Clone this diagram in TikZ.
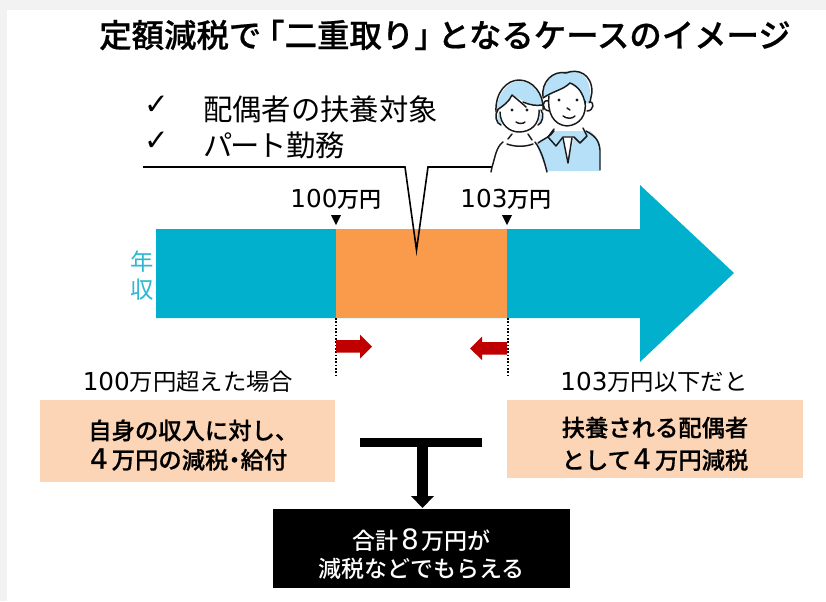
\documentclass[tikz,border=0pt]{standalone}
\usepackage{fontspec}
\setmainfont{Noto Sans CJK JP}
\newfontfamily\jpm{Noto Sans CJK JP Medium}
\newfontfamily\jph{Noto Sans CJK JP Medium}[FakeBold=0.6]
\newfontfamily\dvs{DejaVu Sans}
\newfontfamily\dvh{DejaVu Sans}[FakeBold=0.8]
\usetikzlibrary{shapes.geometric}
\definecolor{teal1}{HTML}{00B0CC}
\definecolor{teal2}{HTML}{2CB8D2}
\definecolor{orange1}{HTML}{F99B4A}
\definecolor{peach}{HTML}{FBD5B5}
\definecolor{red1}{HTML}{C00000}
\definecolor{sky}{HTML}{B5E0F8}
\definecolor{ink}{HTML}{1A1A1A}
\definecolor{frameg}{HTML}{F2F2F2}
\newcommand{\dgA}[1]{{\dvs\fontsize{18.5pt}{20pt}\selectfont #1}}
\newcommand{\dgB}[1]{{\dvh\fontsize{21pt}{22pt}\selectfont\hspace{0.08em}#1\hspace{0.14em}}}
\newcommand{\dgC}[1]{{\dvs\fontsize{21pt}{22pt}\selectfont\hspace{0.08em}#1\hspace{0.08em}}}
\tikzset{
 x=0.75pt,y=-0.75pt,
 lab/.style={font=\fontsize{22pt}{26pt}\selectfont,text=black,inner sep=0},
 amount/.style={font=\jpm\fontsize{16.5pt}{18pt}\selectfont,text=black,inner sep=0},
 side/.style={font=\fontsize{17.5pt}{20pt}\selectfont,text=black,inner sep=0},
 peachbox/.style={fill=peach,draw=none,inner sep=0,align=center,font=\jph\fontsize{17.5pt}{24.3pt}\selectfont},
 band/.style={fill=teal1,draw=none},
 pen/.style={draw=ink,line width=1.1pt,line cap=round,line join=round},
 tri/.style={fill=black,draw=none},
 dots/.style={draw=black,line width=1.5pt,dash pattern=on 1.2pt off 1.3pt},
 redarrow/.style={fill=red1,draw=none},
 check/.style={font=\dvs\fontsize{22pt}{24pt}\selectfont,inner sep=0},
}
\begin{document}
\begin{tikzpicture}
\useasboundingbox (0,0) rectangle (826,601);
\fill[frameg] (0,0) rectangle (826,601);
\fill[white] (7,10) rectangle (826,601);
% title
\node[font=\jph\fontsize{24.3pt}{28pt}\selectfont,inner sep=0] (title) at (445,35) {定額減税で\hspace{-0.28em}「二重取り」\hspace{-0.28em}となるケースのイメージ};
% arrow band
\fill[band] (156,229) -- (640,229) -- (640,185) -- (734,273) -- (640,362) -- (640,318) -- (156,318) -- cycle;
\node[fill=orange1,minimum width=128.25pt,minimum height=66.75pt,inner sep=0,draw=none] (mid) at (421.5,273.5) {};
% labels
\node[font=\fontsize{17.5pt}{21pt}\selectfont,text=teal2,align=center,inner sep=0] (nenshu) at (142,276) {年\\収};
\node[lab,anchor=west] (c1) at (203,109) {配偶者の扶養対象};
\node[lab,anchor=west] (c2) at (203,145) {パ\kern-0.08em ー\kern-0.08em ト勤務};
\node[check] (k1) at (157,105) {✓};
\node[check] (k2) at (157,141) {✓};
% callout line
\coordinate (lineL) at (143,167);
\coordinate (lineR) at (492,167);
\coordinate (tip) at (416.5,250);
\draw[draw=black,line width=1.2pt,line join=miter] (lineL) -- (405,167) -- (tip) -- (428,167) -- (lineR);
% amounts
\node[amount] (a100) at (336,199) {\dgA{100}万円};
\node[amount] (a103) at (506,199) {\dgA{103}万円};
\fill[tri] (331,215) -- (341,215) -- (336,225) -- cycle;
\fill[tri] (502,215) -- (512,215) -- (507,225) -- cycle;
% dotted
\coordinate (d1) at (335.5,318);
\coordinate (d2) at (507.5,318);
\draw[dots] (d1) -- (335.5,377);
\draw[dots] (d2) -- (507.5,377);
% red arrows
\fill[redarrow] (336,340) -- (360,340) -- (360,334.5) -- (372,346.5) -- (360,358.5) -- (360,352.5) -- (336,352.5) -- cycle;
\fill[redarrow] (507,342) -- (482,342) -- (482,336.5) -- (470,348.5) -- (482,360) -- (482,354.5) -- (507,354.5) -- cycle;
% side labels
\node[side] (l1) at (188,382) {\dgA{100}万円超えた場合};
\node[side] (l2) at (654,382) {\dgA{103}万円以下だと};
\node[peachbox,minimum width=221.25pt,minimum height=61.5pt] (b1) at (187.5,441) {\hspace*{0.5em}\rule{0pt}{21pt}自身の収入に対し、\\[-2.25pt]\dgB{4}万円の減税\hspace{-0.24em}・\hspace{-0.24em}給付};
\node[peachbox,minimum width=222pt,minimum height=58.5pt] (b2) at (655,439) {\rule{0pt}{22pt}扶養される配偶者\\として\dgB{4}万円減税};
% T connector
\node[fill=black,minimum width=91.5pt,minimum height=6.75pt,inner sep=0,draw=none] (bar) at (421,442.5) {};
\node[fill=black,align=center,text=white,minimum width=222.75pt,minimum height=59.25pt,inner sep=0,font=\jpm\fontsize{17.25pt}{22.5pt}\selectfont] (sum) at (421.5,548.5) {\rule{0pt}{24.5pt}合計\dgC{8}万円が\\[-1.5pt]減税などでもらえる};
\coordinate (stemEnd) at (422.5,497);
\draw[black,line width=8.25pt] (422.5,447) -- (stemEnd);
\fill[black] (411,496) -- (434,496) -- (422.5,508) -- cycle;
% people: man
\begin{scope}
 \fill[sky] (538,143) .. controls (545,138) and (552,136) .. (556,131) -- (590,131) .. controls (596,136) and (600,140) .. (600,150) -- (600,171) -- (540,171) -- cycle;
 \fill[white] (562,137) -- (574,137) -- (568,163) -- cycle;
 \draw[pen] (538,143) .. controls (545,138) and (550,137) .. (554,131);
 \draw[pen] (586,131) .. controls (595,136) and (599,140) .. (600,150) -- (600,170);
 \draw[pen] (554,129) -- (548,137) -- (556,146) -- (563,137) -- (574,137) -- (580,143) -- (587,136) -- (583,128);
 \draw[pen] (563,138) -- (568,163) -- (572,138);
 \fill[white] (549,92) .. controls (546,110) and (549,126) .. (568,127) .. controls (582,126) and (588,112) .. (586,96) -- cycle;
 \fill[sky] (543,97) .. controls (543,80) and (555,70) .. (570,71) .. controls (585,70) and (592,82) .. (590,104) -- (585,103) .. controls (584,93) and (577,88) .. (570,83) .. controls (563,90) and (553,91) .. (543,98) -- cycle;
 \draw[pen] (549,96) .. controls (547,112) and (553,125) .. (567,126) .. controls (580,125) and (587,115) .. (585,101);
 \draw[pen] (543,97) .. controls (541,82) and (553,70) .. (566,73) .. controls (578,68) and (592,74) .. (592,92) -- (590,102);
 \draw[pen] (543,98) .. controls (553,91) and (563,90) .. (570,83) .. controls (578,86) and (583,93) .. (585,103);
 \draw[pen] (548,101) .. controls (542,99) and (541,110) .. (549,111);
 \draw[pen] (589,102) .. controls (595,101) and (594,111) .. (587,111);
 \fill[ink] (559,100) circle (1.6);
 \fill[ink] (577,100) circle (1.6);
 \draw[pen] (567,108) -- (570,110);
 \draw[pen] (563,116) .. controls (567,119) and (572,119) .. (575,116);
\end{scope}
% people: woman
\begin{scope}
 \fill[white] (491,172) -- (492,167) -- (503,142) -- (535,142) -- (547,172) -- cycle;
 \fill[white] (500,105) .. controls (500,125) and (510,133) .. (520,133) .. controls (531,133) and (541,125) .. (540,105) -- cycle;
 \fill[sky] (497,110) .. controls (497,92) and (510,81) .. (519,81) .. controls (533,81) and (543,96) .. (542,106) .. controls (536,106) and (526,103) .. (512,95) .. controls (509,102) and (503,106) .. (497,110) -- cycle;
 \fill[sky] (498,112) -- (502,125) -- (497,122) -- cycle;
 \fill[sky] (541,112) -- (538,125) -- (543,120) -- cycle;
 \draw[pen] (496,112) .. controls (495,92) and (507,80) .. (519,80) .. controls (533,80) and (544,94) .. (543,110);
 \draw[pen] (497,110) .. controls (503,106) and (509,102) .. (512,95) .. controls (518,100) and (523,104) .. (526,107);
 \draw[pen] (523,102) .. controls (530,105) and (536,106) .. (542,105);
 \draw[pen] (500,112) .. controls (500,125) and (510,132) .. (519,132) .. controls (530,132) and (540,125) .. (539,110);
 \draw[pen] (498,110) .. controls (494,114) and (496,124) .. (501,125);
 \draw[pen] (541,110) .. controls (545,114) and (542,124) .. (538,125);
 \fill[ink] (512,110) circle (1.6);
 \fill[ink] (527,110) circle (1.6);
 \draw[pen] (516,122) .. controls (519,124) and (523,124) .. (525,122);
 \draw[pen] (512,134) -- (508,139);
 \draw[pen] (528,134) -- (532,140);
 \draw[pen] (507,144) .. controls (515,147) and (525,147) .. (533,144);
 \draw[pen] (503,142) .. controls (496,147) and (495,158) .. (492,167) -- (491,172);
 \draw[pen] (535,142) .. controls (541,150) and (544,160) .. (547,172);
\end{scope}
\end{tikzpicture}
\end{document}
